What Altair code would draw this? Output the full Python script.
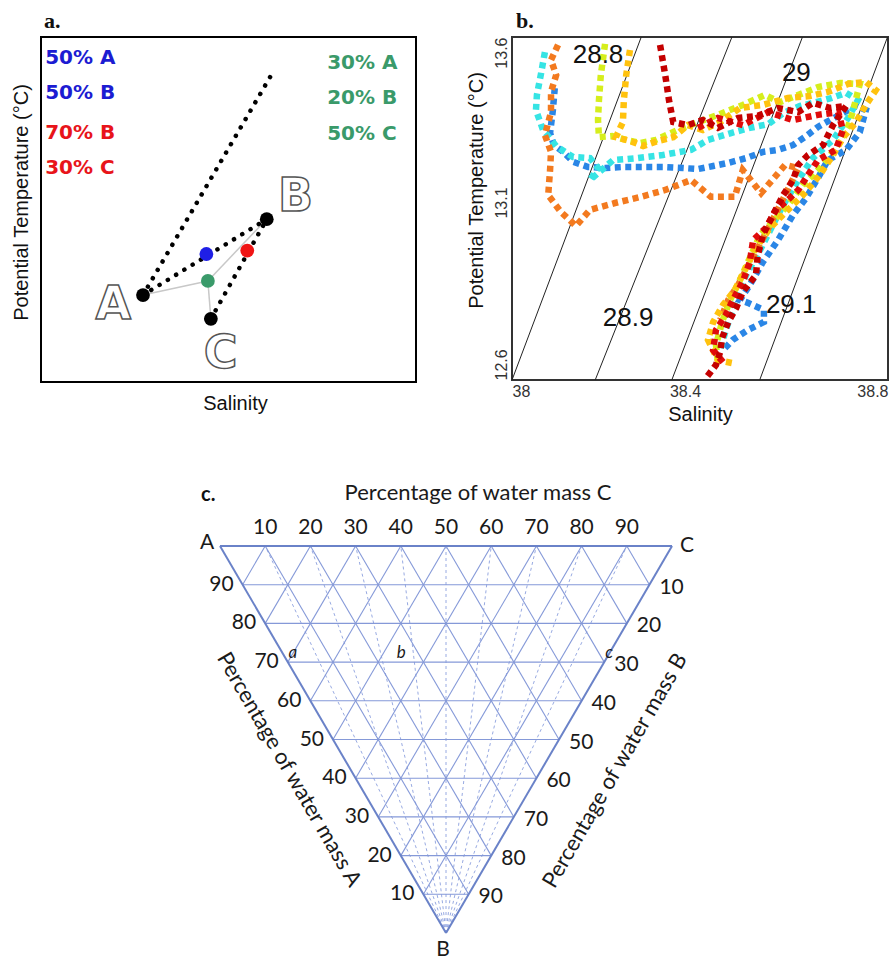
import altair as alt
import pandas as pd

# ======================= PANEL a (schematic T-S diagram) =======================
a_pt_x = [27.2, 60.2, 45.3, 44.1, 55.0, 44.5]
a_pt_y = [25.2, 47.2, 18.3, 37.1, 38.1, 29.3]
a_pt_color = ["#000000", "#000000", "#000000", "#1f1fe6", "#f01414", "#3a9a6a"]

a_dot_x = [27.2, 27.2, 45.3]
a_dot_y = [25.2, 25.2, 18.3]
a_dot_x2 = [61.9, 60.2, 60.2]
a_dot_y2 = [89.9, 47.2, 47.2]

a_gray_x = [27.2, 44.5, 44.5]
a_gray_y = [25.2, 29.3, 29.3]
a_gray_x2 = [44.5, 60.2, 45.3]
a_gray_y2 = [29.3, 47.2, 18.3]

a_letter = ["A", "B", "C"]
a_letter_x = [19.3, 67.9, 47.9]
a_letter_y = [22.3, 53.7, 8.1]

a_mix_text = ["50% A", "50% B", "70% B", "30% C", "30% A", "20% B", "50% C"]
a_mix_x = [1.1, 1.1, 1.1, 1.1, 76.3, 76.3, 76.3]
a_mix_y = [93.8, 83.8, 72.2, 61.9, 92.4, 82.2, 71.9]
a_mix_color = ["#1c1cd2", "#1c1cd2", "#e8141a", "#e8141a", "#3a9a6a", "#3a9a6a", "#3a9a6a"]

# ======================= PANEL b (observed T-S profiles) =======================
darkred_S = [38.315, 38.326, 38.334, 38.343, 38.374, 38.406, 38.438, 38.481, 38.523, 38.566, 38.609, 38.640, 38.677, 38.711, 38.683, 38.662, 38.630, 38.609, 38.598, 38.577, 38.555, 38.534, 38.523, 38.519, 38.491, 38.477, 38.460, 38.447, 38.443, 38.434, 38.413]
darkred_T = [13.577, 13.489, 13.416, 13.352, 13.343, 13.358, 13.335, 13.364, 13.370, 13.393, 13.381, 13.408, 13.393, 13.399, 13.343, 13.285, 13.256, 13.227, 13.183, 13.139, 13.081, 13.023, 12.964, 12.906, 12.857, 12.810, 12.769, 12.722, 12.682, 12.644, 12.606]

red2_S = [38.396, 38.438, 38.491, 38.545, 38.598, 38.651, 38.694, 38.704, 38.689, 38.651, 38.630, 38.609, 38.587, 38.562, 38.540, 38.513, 38.506, 38.491, 38.470, 38.455, 38.434, 38.428, 38.449]
red2_T = [13.335, 13.364, 13.343, 13.381, 13.358, 13.373, 13.381, 13.329, 13.271, 13.241, 13.198, 13.154, 13.125, 13.096, 13.043, 13.008, 12.944, 12.886, 12.833, 12.790, 12.746, 12.687, 12.652]

gold_S = [38.251, 38.243, 38.238, 38.236, 38.221, 38.251, 38.279, 38.311, 38.343, 38.374, 38.406, 38.443, 38.485, 38.534, 38.587, 38.634, 38.672, 38.715, 38.753, 38.774, 38.753, 38.732, 38.704, 38.683, 38.655, 38.619, 38.587, 38.549, 38.519, 38.498, 38.474, 38.449, 38.428, 38.417, 38.438, 38.477]
gold_T = [13.562, 13.489, 13.416, 13.352, 13.308, 13.297, 13.282, 13.297, 13.308, 13.343, 13.329, 13.352, 13.393, 13.402, 13.422, 13.428, 13.440, 13.463, 13.469, 13.445, 13.402, 13.352, 13.306, 13.256, 13.198, 13.139, 13.096, 13.043, 12.985, 12.927, 12.862, 12.819, 12.769, 12.717, 12.658, 12.647]

yg_S = [38.198, 38.189, 38.185, 38.183, 38.185, 38.213, 38.243, 38.274, 38.306, 38.353, 38.396, 38.438, 38.491, 38.538, 38.570, 38.604, 38.651, 38.698, 38.740, 38.726, 38.715, 38.689, 38.655, 38.619, 38.587, 38.555, 38.528, 38.506, 38.485, 38.464, 38.447, 38.434, 38.438]
yg_T = [13.580, 13.489, 13.416, 13.358, 13.308, 13.311, 13.300, 13.291, 13.300, 13.329, 13.352, 13.373, 13.402, 13.431, 13.410, 13.428, 13.454, 13.466, 13.463, 13.387, 13.338, 13.276, 13.218, 13.169, 13.110, 13.061, 13.023, 12.956, 12.892, 12.833, 12.769, 12.702, 12.652]

cyan_S = [38.070, 38.062, 38.053, 38.051, 38.066, 38.094, 38.130, 38.166, 38.183, 38.166, 38.215, 38.268, 38.321, 38.381, 38.417, 38.466, 38.506, 38.545, 38.577, 38.613, 38.647, 38.679, 38.711, 38.736, 38.715, 38.683, 38.640, 38.609, 38.577, 38.555, 38.528, 38.498, 38.477, 38.455, 38.443]
cyan_T = [13.556, 13.495, 13.431, 13.387, 13.329, 13.282, 13.250, 13.247, 13.218, 13.183, 13.241, 13.247, 13.256, 13.271, 13.300, 13.320, 13.335, 13.346, 13.378, 13.399, 13.410, 13.422, 13.437, 13.416, 13.364, 13.300, 13.247, 13.183, 13.110, 13.052, 12.979, 12.906, 12.833, 12.746, 12.687]

blue_S = [38.091, 38.087, 38.081, 38.089, 38.109, 38.130, 38.162, 38.198, 38.236, 38.279, 38.321, 38.364, 38.396, 38.428, 38.460, 38.498, 38.534, 38.566, 38.598, 38.626, 38.651, 38.677, 38.704, 38.732, 38.753, 38.740, 38.711, 38.672, 38.651, 38.626, 38.598, 38.566, 38.534, 38.506, 38.485, 38.502, 38.536, 38.536, 38.502, 38.470, 38.449]
blue_T = [13.451, 13.387, 13.320, 13.285, 13.265, 13.236, 13.221, 13.218, 13.221, 13.221, 13.221, 13.218, 13.215, 13.224, 13.233, 13.247, 13.265, 13.271, 13.285, 13.311, 13.338, 13.358, 13.378, 13.399, 13.387, 13.323, 13.271, 13.241, 13.189, 13.131, 13.081, 13.008, 12.944, 12.877, 12.833, 12.825, 12.804, 12.769, 12.746, 12.717, 12.687]

orange_S = [38.098, 38.083, 38.094, 38.083, 38.083, 38.070, 38.083, 38.081, 38.077, 38.104, 38.136, 38.166, 38.219, 38.274, 38.326, 38.381, 38.423, 38.474, 38.491, 38.530, 38.581, 38.609, 38.581, 38.549, 38.523, 38.498, 38.481, 38.460, 38.443]
orange_T = [13.577, 13.533, 13.489, 13.440, 13.381, 13.314, 13.265, 13.212, 13.139, 13.090, 13.049, 13.096, 13.116, 13.134, 13.154, 13.183, 13.134, 13.134, 13.212, 13.145, 13.227, 13.218, 13.139, 13.052, 12.985, 12.921, 12.877, 12.833, 12.775]

profile_names = ["blue", "cyan", "orange", "yellowgreen", "gold", "red", "darkred"]
profile_colors = ["#2a86e6", "#36e4e4", "#f37a1f", "#d6ee1c", "#ffc20e", "#e00b0b", "#c40000"]
profile_S = [blue_S, cyan_S, orange_S, yg_S, gold_S, red2_S, darkred_S]
profile_T = [blue_T, cyan_T, orange_T, yg_T, gold_T, red2_T, darkred_T]

iso_label = ["28.8", "28.9", "29", "29.1"]
iso_S_bottom = [38.000, 38.177, 38.340, 38.527]
iso_S_top = [38.275, 38.468, 38.618, 38.799]
iso_T_bottom = [12.6, 12.6, 12.6, 12.6]
iso_T_top = [13.6, 13.6, 13.6, 13.6]
iso_lab_S = [38.183, 38.247, 38.605, 38.594]
iso_lab_T = [13.548, 12.780, 13.494, 12.819]

# ======================= PANEL c (ternary mixing diagram) =======================
tern_ticks = [10, 20, 30, 40, 50, 60, 70, 80, 90]
tern_italic = ["a", "b", "c"]
tern_italic_A = [0.70, 0.46, 0.00]
tern_italic_B = [0.30, 0.30, 0.30]
tern_italic_C = [0.00, 0.24, 0.70]

# ----------------------------------------------------------------------------
SANS = "Liberation Sans"
TFONT = "Lato"

# ---------- panel a ----------
df_a_pts = pd.DataFrame({"x": a_pt_x, "y": a_pt_y, "color": a_pt_color})
df_a_dot = pd.DataFrame({"x": a_dot_x, "y": a_dot_y, "x2": a_dot_x2, "y2": a_dot_y2})
df_a_gray = pd.DataFrame({"x": a_gray_x, "y": a_gray_y, "x2": a_gray_x2, "y2": a_gray_y2})
df_a_let = pd.DataFrame({"x": a_letter_x, "y": a_letter_y, "t": a_letter})
df_a_mix = pd.DataFrame({"x": a_mix_x, "y": a_mix_y, "t": a_mix_text, "color": a_mix_color})

xa_axis = alt.Axis(title="Salinity", labels=False, ticks=False, domain=False, grid=False,
                   titleFont=SANS, titleFontSize=20, titleFontWeight="normal",
                   titleColor="#111", titlePadding=11, titleX=194)
ya_axis = alt.Axis(title="Potential Temperature (°C)", labels=False, ticks=False, domain=False,
                   grid=False, titleFont=SANS, titleFontSize=20, titleFontWeight="normal",
                   titleColor="#111", titlePadding=10, titleY=165)
XA = alt.X("x:Q", scale=alt.Scale(domain=[0, 100], nice=False, zero=False), axis=xa_axis)
YA = alt.Y("y:Q", scale=alt.Scale(domain=[0, 100], nice=False, zero=False), axis=ya_axis)

a_gray = alt.Chart(df_a_gray).mark_rule(color="#c8c8c8", strokeWidth=1.5).encode(
    x=XA, y=YA, x2="x2:Q", y2="y2:Q")
a_dots = alt.Chart(df_a_dot).mark_rule(color="black", strokeWidth=4.5, strokeDash=[0.1, 9.6],
                                        strokeCap="round").encode(x=XA, y=YA, x2="x2:Q", y2="y2:Q")
a_pts = alt.Chart(df_a_pts).mark_circle(size=190, opacity=1).encode(
    x=XA, y=YA, color=alt.Color("color:N", scale=None))
a_let = alt.Chart(df_a_let).mark_text(font="DejaVu Sans", fontWeight="bold", fontSize=46,
                                      fill="white", stroke="#555", strokeWidth=1.5,
                                      baseline="middle", align="center").encode(
    x=XA, y=YA, text="t:N")
a_mix = alt.Chart(df_a_mix).mark_text(font="DejaVu Sans", fontWeight="bold", fontSize=20,
                                      align="left", baseline="middle").encode(
    x=XA, y=YA, text="t:N", color=alt.Color("color:N", scale=None))

panel_a = alt.layer(a_gray, a_dots, a_pts, a_let, a_mix).properties(
    width=375, height=345,
    title=alt.Title("a.", anchor="start", frame="group", font="Liberation Serif", fontSize=22,
                    fontWeight="bold", color="#111", offset=4, dx=3),
    view=alt.ViewBackground(stroke="black", strokeWidth=2),
)

# ---------- panel b ----------
rows = []
for name, col, S, T in zip(profile_names, profile_colors, profile_S, profile_T):
    for i, (s, t) in enumerate(zip(S, T)):
        rows.append({"series": name, "color": col, "i": i, "S": s, "T": t})
df_prof = pd.DataFrame(rows)
df_iso = pd.DataFrame({"S": iso_S_bottom, "T": iso_T_bottom, "S2": iso_S_top, "T2": iso_T_top})
df_iso_lab = pd.DataFrame({"S": iso_lab_S, "T": iso_lab_T, "t": iso_label})

yb_align = {"condition": [{"test": "datum.value < 12.7", "value": "left"},
                          {"test": "datum.value > 13.5", "value": "right"}],
            "value": "center"}
yb_offset = {"condition": {"test": "datum.value > 13 && datum.value < 13.2", "value": -6},
             "value": 0}
xb_offset = {"condition": {"test": "datum.value > 38.3 && datum.value < 38.5", "value": -15},
             "value": 0}
xb_axis = alt.Axis(title="Salinity", values=[38, 38.4, 38.8], format="~g", labelFlush=True,
                   labelOffset=xb_offset,
                   ticks=False, tickSize=0, domain=False, grid=False,
                   labelFont=SANS, labelFontSize=16, labelColor="#333", labelPadding=3,
                   titleFont=SANS, titleFontSize=20, titleFontWeight="normal",
                   titleColor="#111", titlePadding=5)
yb_axis = alt.Axis(title="Potential Temperature (°C)", values=[12.6, 13.1, 13.6], format=".1f",
                   labelAngle=270, labelAlign=yb_align, labelBaseline="bottom", labelFlush=False,
                   labelOffset=yb_offset,
                   ticks=False, tickSize=0, domain=False, grid=False,
                   labelFont=SANS, labelFontSize=16, labelColor="#333", labelPadding=3,
                   titleFont=SANS, titleFontSize=20, titleFontWeight="normal",
                   titleColor="#111", titlePadding=7, titleY=153)
XB = alt.X("S:Q", scale=alt.Scale(domain=[38, 38.8], nice=False, zero=False), axis=xb_axis)
YB = alt.Y("T:Q", scale=alt.Scale(domain=[12.6, 13.6], nice=False, zero=False), axis=yb_axis)

b_iso = alt.Chart(df_iso).mark_rule(color="#222", strokeWidth=1).encode(
    x=XB, y=YB, x2="S2:Q", y2="T2:Q")
b_prof = alt.Chart(df_prof).mark_line(strokeWidth=6.5, strokeDash=[6, 4.5], strokeCap="butt",
                                      clip=True).encode(
    x=XB, y=YB, color=alt.Color("color:N", scale=None), detail="series:N", order="i:Q")
b_lab = alt.Chart(df_iso_lab).mark_text(font=SANS, fontSize=26, color="#111",
                                        align="center", baseline="middle").encode(
    x=XB, y=YB, text="t:N")

panel_b = alt.layer(b_iso, b_prof, b_lab).properties(
    width=376, height=343,
    title=alt.Title("b.", anchor="start", frame="group", font="Liberation Serif", fontSize=22,
                    fontWeight="bold", color="#111", offset=4, dx=4),
    view=alt.ViewBackground(stroke="#333", strokeWidth=2),
)

# ---------- panel c ----------
seg = []
for p in tern_ticks:
    f = p / 100.0
    seg.append({"kind": "grid", "a1": 1 - f, "b1": f, "c1": 0, "a2": 0, "b2": f, "c2": 1 - f})
    seg.append({"kind": "grid", "a1": 1 - f, "b1": 0, "c1": f, "a2": 0, "b2": 1 - f, "c2": f})
    seg.append({"kind": "grid", "a1": f, "b1": 0, "c1": 1 - f, "a2": f, "b2": 1 - f, "c2": 0})
    seg.append({"kind": "fan", "a1": 0, "b1": 1, "c1": 0, "a2": 1 - f, "b2": 0, "c2": f})
for (a1, b1, c1, a2, b2, c2) in [(1, 0, 0, 0, 0, 1), (0, 0, 1, 0, 1, 0), (0, 1, 0, 1, 0, 0)]:
    seg.append({"kind": "edge", "a1": a1, "b1": b1, "c1": c1, "a2": a2, "b2": b2, "c2": c2})
df_seg = pd.DataFrame(seg)

lab = []
for p in tern_ticks:
    f = p / 100.0
    lab.append({"kind": "top", "a": 1 - f, "b": 0, "c": f, "t": str(p)})
    lab.append({"kind": "left", "a": 1 - f, "b": f, "c": 0, "t": str(100 - p)})
    lab.append({"kind": "right", "a": 0, "b": f, "c": 1 - f, "t": str(p)})
for t, a, b, c in zip(tern_italic, tern_italic_A, tern_italic_B, tern_italic_C):
    lab.append({"kind": "ital", "a": a, "b": b, "c": c, "t": t})
lab.append({"kind": "vA", "a": 1, "b": 0, "c": 0, "t": "A"})
lab.append({"kind": "vC", "a": 0, "b": 0, "c": 1, "t": "C"})
lab.append({"kind": "vB", "a": 0, "b": 1, "c": 0, "t": "B"})
lab.append({"kind": "tC", "a": 0.5, "b": 0, "c": 0.5, "t": "Percentage of water mass C"})
lab.append({"kind": "tA", "a": 0.5, "b": 0.5, "c": 0, "t": "Percentage of water mass A"})
lab.append({"kind": "tB", "a": 0, "b": 0.5, "c": 0.5, "t": "Percentage of water mass B"})
df_lab = pd.DataFrame(lab)

# panel c view shares column 1 with panel a (375 px wide); the triangle overflows to the right
XC = alt.X("px:Q", scale=alt.Scale(domain=[-0.3960, 0.4336], nice=False, zero=False), axis=None)
YC = alt.Y("py:Q", scale=alt.Scale(domain=[-0.0439, 1.0930], nice=False, zero=False), axis=None)

seg_base = alt.Chart(df_seg).transform_calculate(
    px="datum.c1 + 0.5 * datum.b1", py="1 - datum.b1",
    px2="datum.c2 + 0.5 * datum.b2", py2="1 - datum.b2")
c_grid = seg_base.transform_filter("datum.kind == 'grid'").mark_rule(
    color="#8599d8", strokeWidth=1.1).encode(x=XC, y=YC, x2="px2:Q", y2="py2:Q")
c_fan = seg_base.transform_filter("datum.kind == 'fan'").mark_rule(
    color="#98aae2", strokeWidth=1, strokeDash=[3, 3]).encode(x=XC, y=YC, x2="px2:Q", y2="py2:Q")
c_edge = seg_base.transform_filter("datum.kind == 'edge'").mark_rule(
    color="#6a82c8", strokeWidth=2).encode(x=XC, y=YC, x2="px2:Q", y2="py2:Q")

lab_base = alt.Chart(df_lab).transform_calculate(px="datum.c + 0.5 * datum.b", py="1 - datum.b")


def tlayer(kind, **kw):
    style = dict(font=TFONT, fontSize=21, color="#1a1a1a", baseline="middle", align="center")
    style.update(kw)
    return lab_base.transform_filter(f"datum.kind == '{kind}'").mark_text(**style).encode(
        x=XC, y=YC, text="t:N")


c_layers = [
    c_fan, c_grid, c_edge,
    tlayer("top", dy=-18),
    tlayer("left", align="right", dx=-9),
    tlayer("right", align="left", dx=10, dy=3),
    tlayer("ital", fontSize=17, fontStyle="italic", dy=-9, dx=5),
    tlayer("vA", dx=-13, dy=-3),
    tlayer("vC", dx=15),
    tlayer("vB", dx=-3, dy=17),
    tlayer("tC", fontSize=22, dx=32, dy=-53),
    tlayer("tA", fontSize=22, angle=60, dx=4, dy=53),
    tlayer("tB", fontSize=22, angle=300, dx=1, dy=64),
]
panel_c = alt.layer(*c_layers).properties(
    width=375, height=440,
    title=alt.Title("c.", anchor="start", frame="group", font=TFONT, fontSize=20,
                    fontWeight="bold", color="#111", offset=4, dx=160, dy=27),
    view=alt.ViewBackground(stroke="transparent", strokeWidth=0),
)

chart = alt.concat(panel_a, panel_b, panel_c, columns=2, bounds="flush",
                   spacing={"row": 128, "column": 96}).properties(
    padding={"left": 10, "top": 8, "right": 0, "bottom": 0},
    background="white",
).configure_view(strokeWidth=0)

chart.save("out.html", embed_options={"renderer": "svg", "actions": False})
